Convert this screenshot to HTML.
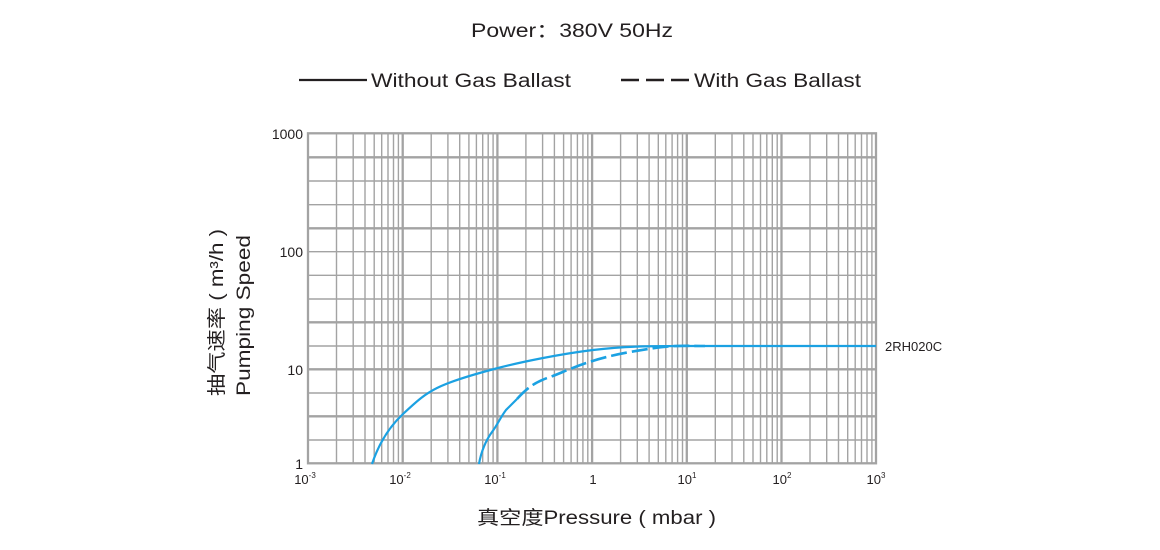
<!DOCTYPE html>
<html><head><meta charset="utf-8"><style>
html,body{margin:0;padding:0;background:#fff;}
svg{display:block;}
text{font-family:"Liberation Sans","Noto Sans CJK SC",sans-serif;fill:#231f20;}
</style></head><body>
<svg width="1160" height="550" viewBox="0 0 1160 550" xmlns="http://www.w3.org/2000/svg">
<text x="471" y="37" font-size="19" textLength="202" lengthAdjust="spacingAndGlyphs">Power：380V 50Hz</text>
<line x1="299" y1="80" x2="367" y2="80" stroke="#231f20" stroke-width="2.2"/>
<text x="371" y="87" font-size="19" textLength="200" lengthAdjust="spacingAndGlyphs">Without Gas Ballast</text>
<line x1="621" y1="80" x2="690" y2="80" stroke="#231f20" stroke-width="2.4" stroke-dasharray="18,7"/>
<text x="694" y="87" font-size="19" textLength="167" lengthAdjust="spacingAndGlyphs">With Gas Ballast</text>

<g stroke="#a3a3a3" stroke-width="1.4">
<line x1="336.5" y1="133" x2="336.5" y2="463.5"/><line x1="353.2" y1="133" x2="353.2" y2="463.5"/><line x1="365" y1="133" x2="365" y2="463.5"/><line x1="374.2" y1="133" x2="374.2" y2="463.5"/><line x1="381.7" y1="133" x2="381.7" y2="463.5"/><line x1="388" y1="133" x2="388" y2="463.5"/><line x1="393.5" y1="133" x2="393.5" y2="463.5"/><line x1="398.4" y1="133" x2="398.4" y2="463.5"/>
<line x1="431.2" y1="133" x2="431.2" y2="463.5"/><line x1="447.9" y1="133" x2="447.9" y2="463.5"/><line x1="459.7" y1="133" x2="459.7" y2="463.5"/><line x1="468.9" y1="133" x2="468.9" y2="463.5"/><line x1="476.4" y1="133" x2="476.4" y2="463.5"/><line x1="482.7" y1="133" x2="482.7" y2="463.5"/><line x1="488.2" y1="133" x2="488.2" y2="463.5"/><line x1="493.1" y1="133" x2="493.1" y2="463.5"/>
<line x1="525.9" y1="133" x2="525.9" y2="463.5"/><line x1="542.6" y1="133" x2="542.6" y2="463.5"/><line x1="554.4" y1="133" x2="554.4" y2="463.5"/><line x1="563.6" y1="133" x2="563.6" y2="463.5"/><line x1="571.1" y1="133" x2="571.1" y2="463.5"/><line x1="577.4" y1="133" x2="577.4" y2="463.5"/><line x1="582.9" y1="133" x2="582.9" y2="463.5"/><line x1="587.8" y1="133" x2="587.8" y2="463.5"/>
<line x1="620.6" y1="133" x2="620.6" y2="463.5"/><line x1="637.3" y1="133" x2="637.3" y2="463.5"/><line x1="649.1" y1="133" x2="649.1" y2="463.5"/><line x1="658.3" y1="133" x2="658.3" y2="463.5"/><line x1="665.8" y1="133" x2="665.8" y2="463.5"/><line x1="672.1" y1="133" x2="672.1" y2="463.5"/><line x1="677.6" y1="133" x2="677.6" y2="463.5"/><line x1="682.5" y1="133" x2="682.5" y2="463.5"/>
<line x1="715.3" y1="133" x2="715.3" y2="463.5"/><line x1="732" y1="133" x2="732" y2="463.5"/><line x1="743.8" y1="133" x2="743.8" y2="463.5"/><line x1="753" y1="133" x2="753" y2="463.5"/><line x1="760.5" y1="133" x2="760.5" y2="463.5"/><line x1="766.8" y1="133" x2="766.8" y2="463.5"/><line x1="772.3" y1="133" x2="772.3" y2="463.5"/><line x1="777.2" y1="133" x2="777.2" y2="463.5"/>
<line x1="810" y1="133" x2="810" y2="463.5"/><line x1="826.7" y1="133" x2="826.7" y2="463.5"/><line x1="838.5" y1="133" x2="838.5" y2="463.5"/><line x1="847.7" y1="133" x2="847.7" y2="463.5"/><line x1="855.2" y1="133" x2="855.2" y2="463.5"/><line x1="861.5" y1="133" x2="861.5" y2="463.5"/><line x1="867" y1="133" x2="867" y2="463.5"/><line x1="871.9" y1="133" x2="871.9" y2="463.5"/>
<line x1="308" y1="181" x2="876" y2="181"/><line x1="308" y1="204.7" x2="876" y2="204.7"/><line x1="308" y1="251.7" x2="876" y2="251.7"/><line x1="308" y1="275.3" x2="876" y2="275.3"/><line x1="308" y1="299" x2="876" y2="299"/><line x1="308" y1="346" x2="876" y2="346"/><line x1="308" y1="393" x2="876" y2="393"/><line x1="308" y1="440" x2="876" y2="440"/>
</g>
<g stroke="#a3a3a3" stroke-width="2.3">
<line x1="308" y1="157.3" x2="876" y2="157.3"/><line x1="308" y1="228.3" x2="876" y2="228.3"/><line x1="308" y1="322.3" x2="876" y2="322.3"/><line x1="308" y1="369.3" x2="876" y2="369.3"/><line x1="308" y1="416.3" x2="876" y2="416.3"/>
<line x1="402.7" y1="133" x2="402.7" y2="463.5"/><line x1="497.4" y1="133" x2="497.4" y2="463.5"/><line x1="592.1" y1="133" x2="592.1" y2="463.5"/><line x1="686.8" y1="133" x2="686.8" y2="463.5"/><line x1="781.5" y1="133" x2="781.5" y2="463.5"/>
<rect x="308" y="133.3" width="568" height="330" fill="none"/>
</g>

<g fill="none" stroke="#1ba1e2" stroke-width="2.2">
<path d="M372,464 C378,446 388,428 403,414 S425,394 437,388 S475,374 498,368 S560,354 593,350 S650,346 688,346 L876,346"/>
<path d="M479,464 C481,452 486,440 492,432 S500,418 506,410 L517,399"/>
<path d="M517,399 C527,388 535,382 550,377 S585,360 630,352 S680,346 705,346" stroke-width="2.6" stroke-dasharray="16,5"/>
</g>
<text x="885" y="351" font-size="13">2RH020C</text>

<g font-size="14" text-anchor="end">
<text x="303" y="139">1000</text>
<text x="303" y="257">100</text>
<text x="303" y="375">10</text>
<text x="303" y="469">1</text>
</g>
<g font-size="13" text-anchor="middle">
<text x="305" y="484">10<tspan font-size="8" dy="-6">-3</tspan></text>
<text x="400" y="484">10<tspan font-size="8" dy="-6">-2</tspan></text>
<text x="495" y="484">10<tspan font-size="8" dy="-6">-1</tspan></text>
<text x="593" y="484">1</text>
<text x="687" y="484">10<tspan font-size="8" dy="-6">1</tspan></text>
<text x="782" y="484">10<tspan font-size="8" dy="-6">2</tspan></text>
<text x="876" y="484">10<tspan font-size="8" dy="-6">3</tspan></text>
</g>
<text x="477" y="524" font-size="19" textLength="239" lengthAdjust="spacingAndGlyphs">真空度Pressure ( mbar )</text>
<text transform="translate(223,396) rotate(-90)" font-size="19" textLength="167" lengthAdjust="spacingAndGlyphs">抽气速率 ( m³/h )</text>
<text transform="translate(250,396) rotate(-90)" font-size="19" textLength="161" lengthAdjust="spacingAndGlyphs">Pumping Speed</text>
</svg>
</body></html>
